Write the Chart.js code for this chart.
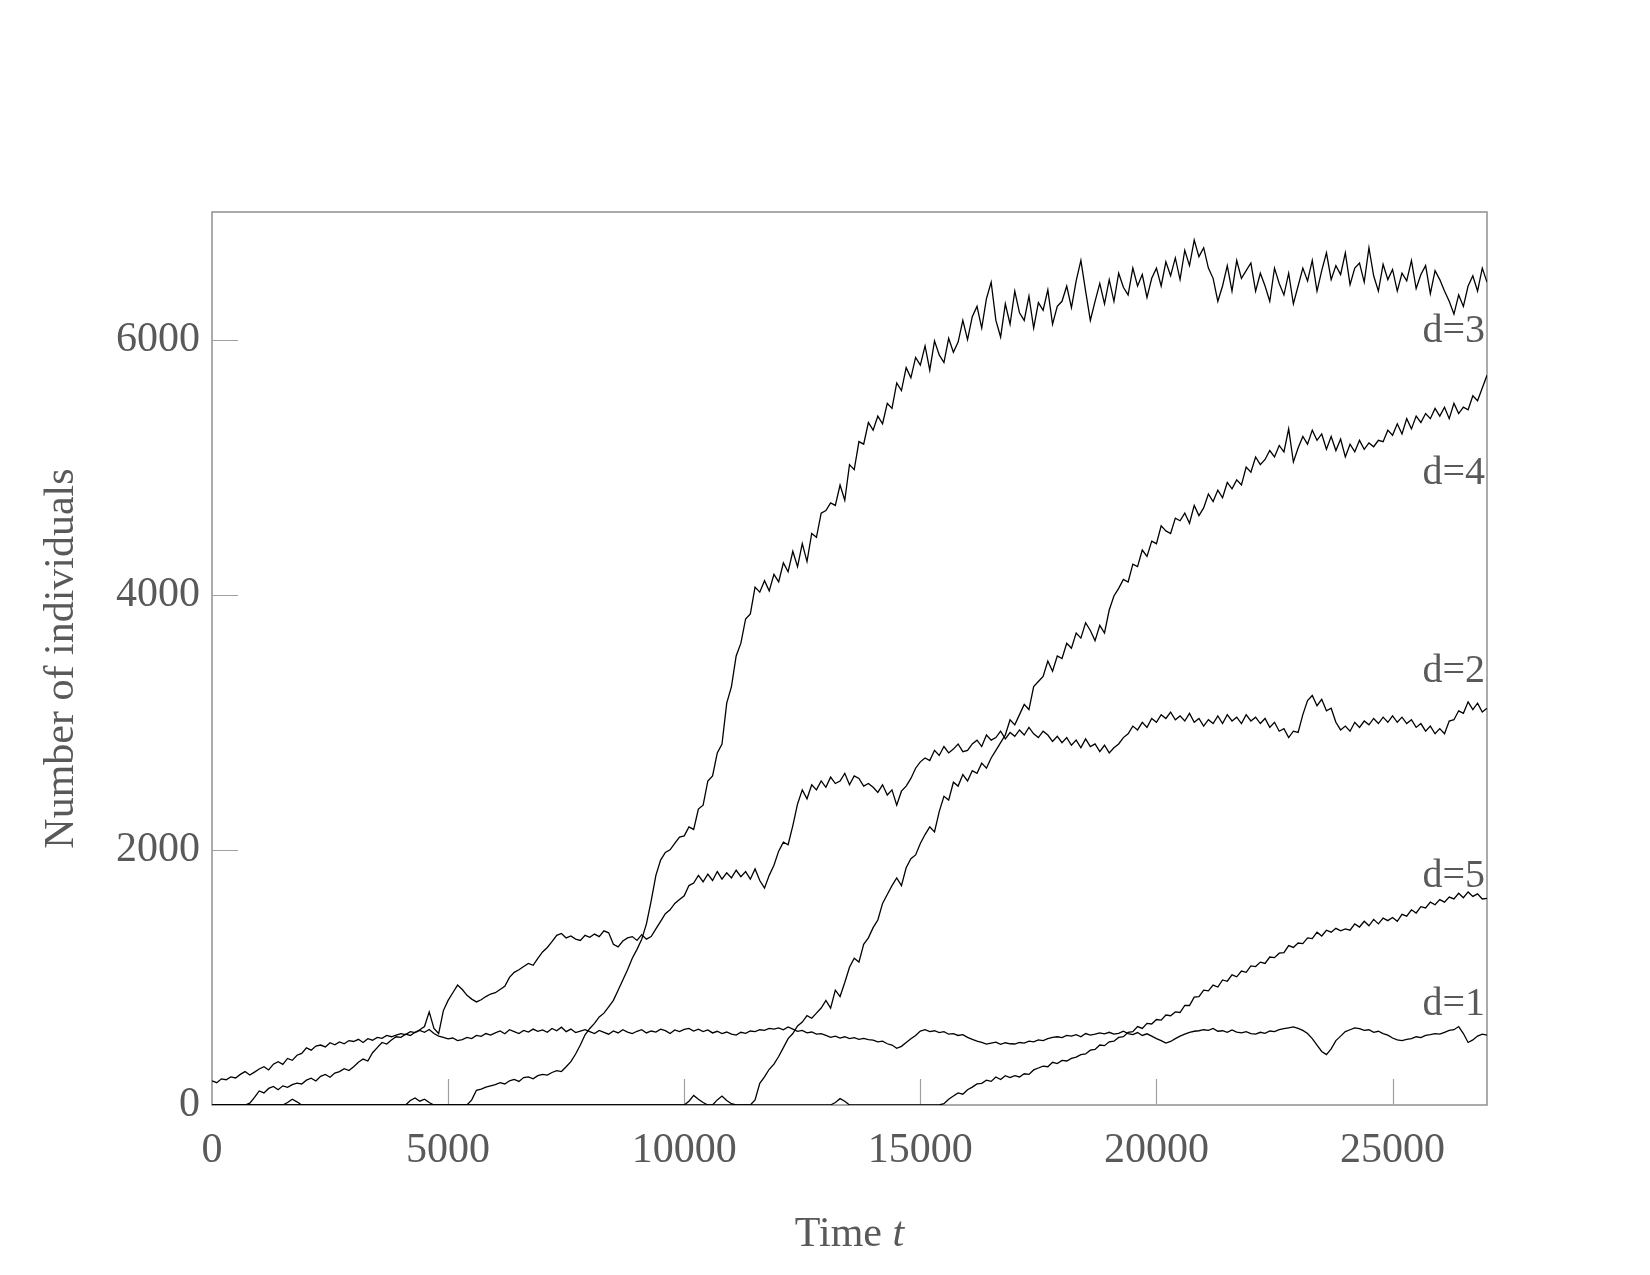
<!DOCTYPE html>
<html lang="en">
<head>
<meta charset="UTF-8">
<title>Number of individuals vs time</title>
<script src="https://cdn.jsdelivr.net/npm/chart.js"></script>
<style>
  body { margin: 0; background: #ffffff; }
  #wrap { width: 1650px; height: 1275px; }
</style>
</head>
<body>
<div id="wrap"><canvas id="chart" width="1650" height="1275"></canvas></div>
<script>
// sampling times (every 100 steps)
const times = [
  0,100,200,300,400,500,600,700,800,900,
  1000,1100,1200,1300,1400,1500,1600,1700,1800,1900,
  2000,2100,2200,2300,2400,2500,2600,2700,2800,2900,
  3000,3100,3200,3300,3400,3500,3600,3700,3800,3900,
  4000,4100,4200,4300,4400,4500,4600,4700,4800,4900,
  5000,5100,5200,5300,5400,5500,5600,5700,5800,5900,
  6000,6100,6200,6300,6400,6500,6600,6700,6800,6900,
  7000,7100,7200,7300,7400,7500,7600,7700,7800,7900,
  8000,8100,8200,8300,8400,8500,8600,8700,8800,8900,
  9000,9100,9200,9300,9400,9500,9600,9700,9800,9900,
  10000,10100,10200,10300,10400,10500,10600,10700,10800,10900,
  11000,11100,11200,11300,11400,11500,11600,11700,11800,11900,
  12000,12100,12200,12300,12400,12500,12600,12700,12800,12900,
  13000,13100,13200,13300,13400,13500,13600,13700,13800,13900,
  14000,14100,14200,14300,14400,14500,14600,14700,14800,14900,
  15000,15100,15200,15300,15400,15500,15600,15700,15800,15900,
  16000,16100,16200,16300,16400,16500,16600,16700,16800,16900,
  17000,17100,17200,17300,17400,17500,17600,17700,17800,17900,
  18000,18100,18200,18300,18400,18500,18600,18700,18800,18900,
  19000,19100,19200,19300,19400,19500,19600,19700,19800,19900,
  20000,20100,20200,20300,20400,20500,20600,20700,20800,20900,
  21000,21100,21200,21300,21400,21500,21600,21700,21800,21900,
  22000,22100,22200,22300,22400,22500,22600,22700,22800,22900,
  23000,23100,23200,23300,23400,23500,23600,23700,23800,23900,
  24000,24100,24200,24300,24400,24500,24600,24700,24800,24900,
  25000,25100,25200,25300,25400,25500,25600,25700,25800,25900,
  26000,26100,26200,26300,26400,26500,26600,26700,26800,26900,
  27000
];

const d1 = [
  190,175,205,198,220,212,240,262,235,258,
  282,300,275,320,340,318,365,350,390,405,
  448,430,462,470,455,488,472,495,480,505,
  498,515,490,520,508,530,522,545,535,548,
  560,552,575,568,585,570,592,560,540,530,
  518,525,505,512,530,520,545,538,560,548,
  565,580,558,590,575,560,585,572,595,578,
  588,570,600,582,610,575,595,568,580,590,
  575,560,585,570,555,580,565,590,572,560,
  578,590,565,580,572,595,583,560,588,575,
  592,600,580,595,575,588,565,578,560,572,
  555,548,570,562,580,575,590,585,600,595,
  605,590,612,595,578,585,565,572,555,560,
  545,530,540,525,535,520,528,515,522,512,
  508,495,500,480,470,445,460,490,520,545,
  580,590,575,582,568,575,555,560,545,552,
  530,515,500,490,478,485,492,475,488,480,
  478,490,485,500,495,510,505,520,530,535,
  528,545,540,552,535,560,548,555,565,558,
  570,555,562,578,560,552,568,545,558,540,
  520,505,485,498,520,540,555,570,578,582,
  590,585,600,578,582,570,588,572,565,575,
  560,555,570,562,580,575,590,598,605,612,
  600,585,560,520,470,420,395,440,505,540,
  575,590,605,598,585,590,570,578,560,548,
  525,510,505,515,520,535,528,545,552,560,
  555,570,585,590,615,560,490,510,540,555,
  547
];

const d2 = [
  0,0,0,0,0,0,0,0,15,60,
  110,95,130,145,120,150,138,160,172,165,
  195,210,188,225,240,218,250,262,285,270,
  300,335,360,345,410,450,490,478,510,535,
  530,555,545,570,590,615,730,600,560,740,
  820,880,940,905,860,830,808,825,850,870,
  880,905,930,1000,1040,1060,1085,1110,1095,1150,
  1200,1235,1280,1330,1345,1310,1325,1300,1290,1330,
  1315,1340,1320,1365,1350,1260,1240,1285,1310,1320,
  1290,1335,1300,1320,1380,1440,1500,1530,1580,1610,
  1640,1720,1740,1800,1750,1810,1760,1830,1770,1820,
  1780,1840,1790,1830,1770,1850,1760,1700,1800,1880,
  1990,2060,2040,2190,2360,2470,2400,2510,2470,2540,
  2490,2570,2520,2540,2600,2510,2580,2560,2500,2520,
  2490,2450,2510,2430,2470,2350,2460,2500,2560,2640,
  2690,2720,2700,2780,2740,2810,2760,2790,2830,2770,
  2780,2830,2860,2810,2900,2860,2880,2930,2870,2920,
  2890,2940,2900,2960,2910,2880,2930,2900,2850,2890,
  2840,2880,2820,2860,2800,2870,2810,2830,2770,2820,
  2760,2800,2830,2880,2910,2970,2940,3000,2960,3030,
  3000,3060,3030,3080,3020,3050,3010,3070,3000,3030,
  2970,3020,2990,3050,2990,3060,3010,3040,2990,3060,
  3010,3040,2990,3030,2960,3000,2930,2950,2880,2930,
  2920,3060,3170,3210,3130,3180,3090,3110,3000,2940,
  2970,2930,3000,2960,3010,2980,3030,2990,3040,3000,
  3050,3000,3040,2990,3020,2960,2990,2930,2970,2910,
  2950,2910,3010,3020,3090,3070,3160,3100,3150,3080,
  3110
];

const d3 = [
  0,0,0,0,0,0,0,0,0,0,
  0,0,0,0,0,0,20,45,25,0,
  0,0,0,0,0,0,0,0,0,0,
  0,0,0,0,0,0,0,0,0,0,
  0,0,35,55,30,45,20,0,0,0,
  0,0,0,0,0,40,115,125,140,150,
  160,175,165,190,200,185,215,220,205,230,
  240,235,255,270,262,300,340,400,470,550,
  600,640,690,720,770,820,900,980,1060,1150,
  1220,1300,1420,1600,1800,1920,1980,2000,2050,2100,
  2110,2180,2160,2320,2350,2540,2580,2760,2830,3150,
  3280,3520,3620,3810,3850,4060,4020,4110,4030,4160,
  4100,4250,4180,4340,4220,4400,4260,4480,4450,4640,
  4660,4720,4700,4860,4740,5020,4980,5200,5180,5350,
  5290,5400,5340,5500,5460,5660,5600,5780,5700,5860,
  5800,5950,5760,5990,5880,5820,6010,5900,5980,6150,
  6000,6180,6260,6090,6320,6450,6150,6020,6280,6120,
  6380,6210,6150,6340,6090,6290,6230,6390,6120,6260,
  6300,6420,6250,6460,6620,6380,6150,6300,6440,6280,
  6470,6300,6520,6410,6350,6560,6420,6510,6330,6480,
  6560,6420,6610,6500,6640,6470,6700,6580,6780,6650,
  6720,6560,6480,6300,6420,6580,6380,6620,6480,6540,
  6600,6380,6520,6420,6300,6560,6440,6350,6520,6280,
  6420,6560,6460,6620,6380,6540,6680,6470,6580,6510,
  6680,6430,6560,6600,6450,6720,6500,6380,6590,6470,
  6550,6380,6520,6460,6620,6400,6510,6580,6360,6540,
  6470,6380,6300,6200,6350,6260,6420,6500,6380,6560,
  6450
];

const d4 = [
  0,0,0,0,0,0,0,0,0,0,
  0,0,0,0,0,0,0,0,0,0,
  0,0,0,0,0,0,0,0,0,0,
  0,0,0,0,0,0,0,0,0,0,
  0,0,0,0,0,0,0,0,0,0,
  0,0,0,0,0,0,0,0,0,0,
  0,0,0,0,0,0,0,0,0,0,
  0,0,0,0,0,0,0,0,0,0,
  0,0,0,0,0,0,0,0,0,0,
  0,0,0,0,0,0,0,0,0,0,
  0,30,75,45,20,0,0,40,70,35,
  10,0,0,0,0,40,170,220,280,320,
  380,450,520,560,620,650,700,680,720,760,
  820,760,900,850,960,1080,1150,1120,1260,1310,
  1390,1450,1580,1650,1720,1780,1720,1860,1930,1960,
  2050,2120,2180,2140,2300,2420,2390,2530,2500,2590,
  2540,2620,2600,2680,2640,2720,2780,2840,2900,3020,
  2980,3060,3140,3100,3280,3320,3360,3480,3400,3520,
  3500,3620,3580,3700,3660,3780,3720,3640,3760,3700,
  3880,3990,4050,4120,4100,4240,4220,4350,4300,4420,
  4400,4540,4500,4480,4600,4580,4640,4560,4700,4620,
  4680,4790,4730,4820,4760,4880,4830,4900,4860,5000,
  4960,5080,5020,5060,5130,5080,5170,5120,5300,5040,
  5150,5240,5180,5290,5210,5260,5140,5240,5130,5220,
  5080,5180,5120,5210,5140,5190,5160,5210,5200,5290,
  5250,5340,5260,5380,5300,5400,5350,5420,5380,5460,
  5400,5470,5380,5500,5420,5470,5450,5560,5520,5620,
  5720
];

const d5 = [
  0,0,0,0,0,0,0,0,0,0,
  0,0,0,0,0,0,0,0,0,0,
  0,0,0,0,0,0,0,0,0,0,
  0,0,0,0,0,0,0,0,0,0,
  0,0,0,0,0,0,0,0,0,0,
  0,0,0,0,0,0,0,0,0,0,
  0,0,0,0,0,0,0,0,0,0,
  0,0,0,0,0,0,0,0,0,0,
  0,0,0,0,0,0,0,0,0,0,
  0,0,0,0,0,0,0,0,0,0,
  0,0,0,0,0,0,0,0,0,0,
  0,0,0,0,0,0,0,0,0,0,
  0,0,0,0,0,0,0,0,0,0,
  0,0,20,50,30,0,0,0,0,0,
  0,0,0,0,0,0,0,0,0,0,
  0,0,0,0,0,10,45,70,95,85,
  120,140,165,170,195,185,220,200,230,215,
  230,220,245,240,275,290,305,300,335,325,
  350,345,365,375,395,400,430,435,470,465,
  495,500,530,535,570,575,615,600,640,635,
  670,665,705,700,730,725,780,780,845,850,
  900,895,940,925,980,970,1020,1005,1050,1040,
  1090,1085,1120,1110,1160,1155,1190,1195,1250,1235,
  1270,1265,1310,1305,1355,1325,1370,1355,1385,1365,
  1380,1370,1420,1395,1440,1405,1455,1420,1465,1445,
  1470,1440,1495,1480,1530,1505,1555,1545,1590,1570,
  1610,1590,1630,1615,1660,1625,1670,1635,1655,1615,
  1620
];

const seriesNames = ["d=1", "d=2", "d=3", "d=4", "d=5"];
const seriesValues = [d1, d2, d3, d4, d5];
// value level at which each name is written, next to the right edge
const labelLevels = [704, 3316, 5982, 4869, 1708];

const xTickValues = [0, 5000, 10000, 15000, 20000, 25000];
const yTickValues = [0, 2000, 4000, 6000];

const serif = '"Liberation Serif", "DejaVu Serif", serif';
const textColor = '#595959';

const decorations = {
    id: 'decorations',
    beforeDatasetsDraw(chart) {
        const { ctx, chartArea: a, scales: { x, y } } = chart;
        ctx.save();
        ctx.strokeStyle = '#8f8f8f';
        ctx.lineWidth = 1.5;
        ctx.strokeRect(a.left, a.top, a.right - a.left, a.bottom - a.top);

        // inward tick marks
        ctx.strokeStyle = '#a0a0a0';
        ctx.lineWidth = 1.2;
        ctx.beginPath();
        xTickValues.slice(1).forEach(v => {
            const px = Math.round(x.getPixelForValue(v)) + 0.5;
            ctx.moveTo(px, a.bottom);
            ctx.lineTo(px, a.bottom - 26);
        });
        yTickValues.slice(1).forEach(v => {
            const py = Math.round(y.getPixelForValue(v)) + 0.5;
            ctx.moveTo(a.left, py);
            ctx.lineTo(a.left + 26, py);
        });
        ctx.stroke();
        ctx.restore();
    },
    afterDatasetsDraw(chart) {
        const { ctx, chartArea: a, scales: { y } } = chart;
        ctx.save();
        ctx.fillStyle = textColor;

        // series names
        ctx.font = '40px ' + serif;
        ctx.textAlign = 'right';
        ctx.textBaseline = 'alphabetic';
        seriesNames.forEach((name, i) => {
            ctx.fillText(name, a.right - 2, y.getPixelForValue(labelLevels[i]));
        });

        // x axis title: "Time t" with italic t
        const base = a.bottom + 141;
        const cx = (a.left + a.right) / 2;
        ctx.font = '42px ' + serif;
        const w1 = ctx.measureText('Time ').width;
        ctx.font = 'italic 42px ' + serif;
        const w2 = ctx.measureText('t').width;
        const start = cx - (w1 + w2) / 2;
        ctx.textAlign = 'left';
        ctx.font = '42px ' + serif;
        ctx.fillText('Time ', start, base);
        ctx.font = 'italic 42px ' + serif;
        ctx.fillText('t', start + w1, base);

        // y axis title
        ctx.font = '42px ' + serif;
        ctx.textAlign = 'center';
        ctx.translate(73, (a.top + a.bottom) / 2);
        ctx.rotate(-Math.PI / 2);
        ctx.fillText('Number of individuals', 0, 0);
        ctx.restore();
    }
};

const datasets = seriesValues.map((vals, i) => ({
    label: seriesNames[i],
    data: vals.map((v, k) => ({ x: times[k], y: v })),
    borderColor: '#000000',
    borderWidth: 1.3,
    pointRadius: 0,
    tension: 0,
    fill: false
}));

new Chart(document.getElementById('chart'), {
    type: 'line',
    data: { datasets },
    options: {
        responsive: false,
        devicePixelRatio: 1,
        animation: false,
        layout: { padding: { left: 0, top: 212, right: 163, bottom: 0 } },
        plugins: {
            legend: { display: false },
            tooltip: { enabled: false }
        },
        scales: {
            x: {
                type: 'linear',
                min: 0,
                max: 27000,
                afterBuildTicks: s => { s.ticks = xTickValues.map(v => ({ value: v })); },
                afterFit: s => { s.height = 170; },
                grid: { display: false, drawTicks: false },
                border: { display: false },
                ticks: {
                    autoSkip: false,
                    maxRotation: 0,
                    padding: 21,
                    color: textColor,
                    font: { family: serif, size: 42 },
                    callback: v => String(v)
                }
            },
            y: {
                type: 'linear',
                min: 0,
                max: 7000,
                afterBuildTicks: s => { s.ticks = yTickValues.map(v => ({ value: v })); },
                afterFit: s => { s.width = 212; },
                grid: { display: false, drawTicks: false },
                border: { display: false },
                ticks: {
                    padding: 12,
                    color: textColor,
                    font: { family: serif, size: 42 },
                    callback: v => String(v)
                }
            }
        }
    },
    plugins: [decorations]
});
</script>
</body>
</html>
